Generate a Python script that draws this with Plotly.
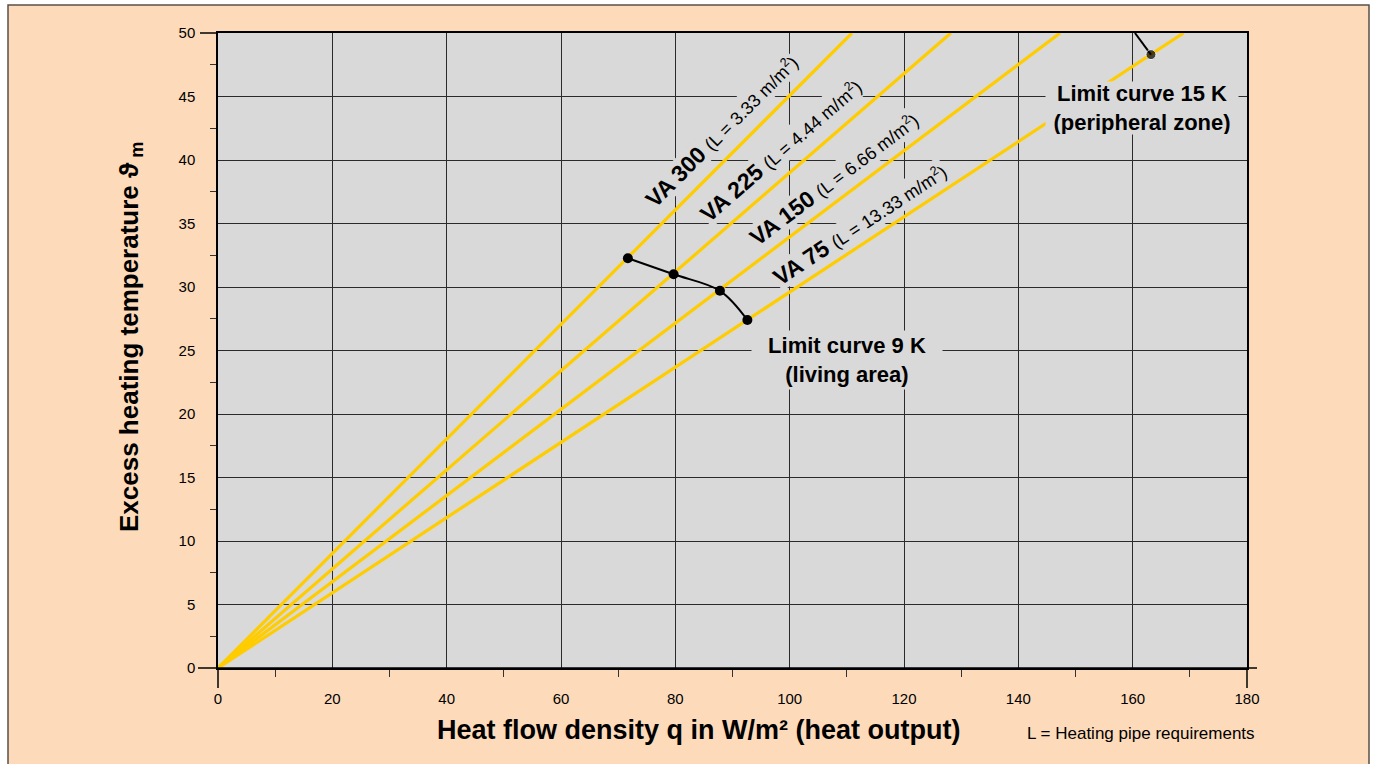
import plotly.graph_objects as go

# ---------------- data ----------------
series = ["VA 300", "VA 225", "VA 150", "VA 75"]
pipe_len = ["3.33", "4.44", "6.66", "13.33"]
q_top = [110.9, 128.2, 147.3, 168.9]      # heat flow where each line reaches 50 K
theta_top = [50, 50, 50, 50]

label_q = [88.1, 98.5, 107.7, 112.3]      # label centres
label_t = [42.25, 40.75, 38.5, 34.95]

limit9_q = [71.7, 79.7, 87.8, 92.6]
limit9_t = [32.26, 31.0, 29.7, 27.4]
limit15_q = [160.4, 163.2]
limit15_t = [50.0, 48.3]

x_ticks = [0, 20, 40, 60, 80, 100, 120, 140, 160, 180]
y_ticks = [0, 5, 10, 15, 20, 25, 30, 35, 40, 45, 50]

# ---------------- style ----------------
FONT = "Liberation Sans, Arial, Helvetica, sans-serif"
PEACH = "#FDDBBA"
GRAY = "#D9D9D9"
YELLOW = "#FFCC00"
GRID = "#2a2a2a"
angles = [-45.1, -41.0, -37.2, -33.3]

W, H = 1375, 764
L, R, T, B = 218, 128, 33, 96
PW, PH = W - L - R, H - T - B


def px_x(p):
    return (p - L) / PW


def px_y(p):
    return (H - B - p) / PH


fig = go.Figure()

for name, qe, te in zip(series, q_top, theta_top):
    fig.add_trace(go.Scatter(x=[0, qe], y=[0, te], mode="lines", name=name,
                             line=dict(color=YELLOW, width=3.2), showlegend=False,
                             hoverinfo="skip"))

fig.add_trace(go.Scatter(x=limit9_q, y=limit9_t, mode="lines+markers",
                         line=dict(color="black", width=2, shape="spline", smoothing=1),
                         marker=dict(color="black", size=10), showlegend=False))
fig.add_trace(go.Scatter(x=limit15_q, y=limit15_t, mode="lines+markers",
                         line=dict(color="black", width=2),
                         marker=dict(color="black", size=[0, 10]), showlegend=False,
                         cliponaxis=True))

shapes = [
    dict(type="rect", xref="paper", yref="paper", x0=px_x(8), x1=px_x(1369),
         y0=px_y(800), y1=px_y(5), fillcolor=PEACH,
         line=dict(color="#5a5048", width=1.5), layer="below"),
    dict(type="rect", xref="paper", yref="paper", x0=0, x1=1, y0=0, y1=1,
         fillcolor=GRAY, line=dict(width=0), layer="below"),
    # axis extensions
    dict(type="line", xref="paper", yref="paper", x0=px_x(198), x1=px_x(1257),
         y0=0, y1=0, line=dict(color="black", width=1.5)),
    dict(type="line", xref="paper", yref="paper", x0=px_x(200), x1=0,
         y0=1, y1=1, line=dict(color="black", width=1.5)),
    dict(type="line", xref="paper", yref="paper", x0=0, x1=0,
         y0=px_y(688), y1=0, line=dict(color="black", width=1.5)),
    dict(type="line", xref="paper", yref="paper", x0=1, x1=1,
         y0=px_y(688), y1=0, line=dict(color="black", width=1.5)),
]

annotations = []
for name, pl, lq, lt, ang in zip(series, pipe_len, label_q, label_t, angles):
    annotations.append(dict(
        x=lq, y=lt, xref="x", yref="y", showarrow=False, textangle=ang,
        text=f"<b>{name}</b> <span style='font-size:18px'>(L = {pl} m/m<sup>2</sup>)</span>",
        font=dict(family=FONT, size=23, color="black"),
        bgcolor=GRAY, borderpad=0))

annotations.append(dict(x=110.0, y=24.25, xref="x", yref="y", showarrow=False,
                        text="<b>Limit curve 9 K<br>(living area)</b>",
                        font=dict(family=FONT, size=22, color="black"),
                        bgcolor=GRAY, width=190, height=58, borderpad=0))
annotations.append(dict(x=161.6, y=44.1, xref="x", yref="y", showarrow=False,
                        text="<b>Limit curve 15 K<br>(peripheral zone)</b>",
                        font=dict(family=FONT, size=22, color="black"),
                        bgcolor=GRAY, width=192, height=52, borderpad=0))

annotations.append(dict(x=px_x(698), y=px_y(730), xref="paper", yref="paper",
                        showarrow=False, xanchor="center", yanchor="middle",
                        text="<b>Heat flow density q in W/m² (heat output)</b>",
                        font=dict(family=FONT, size=27, color="black")))
annotations.append(dict(x=px_x(130), y=px_y(337), xref="paper", yref="paper",
                        showarrow=False, textangle=-90, xanchor="center", yanchor="middle",
                        text="<b>Excess heating temperature ϑ<sub> m</sub></b>",
                        font=dict(family=FONT, size=26, color="black")))
annotations.append(dict(x=px_x(1257), y=px_y(733), xref="paper", yref="paper",
                        showarrow=False, xanchor="right", yanchor="middle",
                        text="L = Heating pipe requirements",
                        font=dict(family=FONT, size=17, color="black")))

fig.update_layout(
    width=W, height=H, autosize=False,
    margin=dict(l=L, r=R, t=T, b=B),
    paper_bgcolor="white", plot_bgcolor="rgba(0,0,0,0)",
    shapes=shapes, annotations=annotations,
    font=dict(family=FONT, size=15, color="black"),
    xaxis=dict(range=[0, 180], tickvals=x_ticks, ticks="", showgrid=True,
               gridcolor=GRID, gridwidth=1, zeroline=False, showline=True,
               mirror=True, linecolor="black", linewidth=1.5,
               ticklabelstandoff=16, tickfont=dict(size=15),
               minor=dict(tick0=10, dtick=20, ticks="outside", ticklen=7,
                          tickcolor="#333", tickwidth=1, showgrid=False)),
    yaxis=dict(range=[0, 50], tickvals=y_ticks, ticks="", showgrid=True,
               gridcolor=GRID, gridwidth=1, zeroline=False, showline=True,
               mirror=True, linecolor="black", linewidth=1.5,
               ticklabelstandoff=18, tickfont=dict(size=15),
               minor=dict(tick0=2.5, dtick=5, ticks="outside", ticklen=6,
                          tickcolor="#333", tickwidth=1, showgrid=False)),
)

fig.write_html("out.html", config={"displayModeBar": False},
               post_script="document.body.style.margin='0';document.body.style.padding='0';")
